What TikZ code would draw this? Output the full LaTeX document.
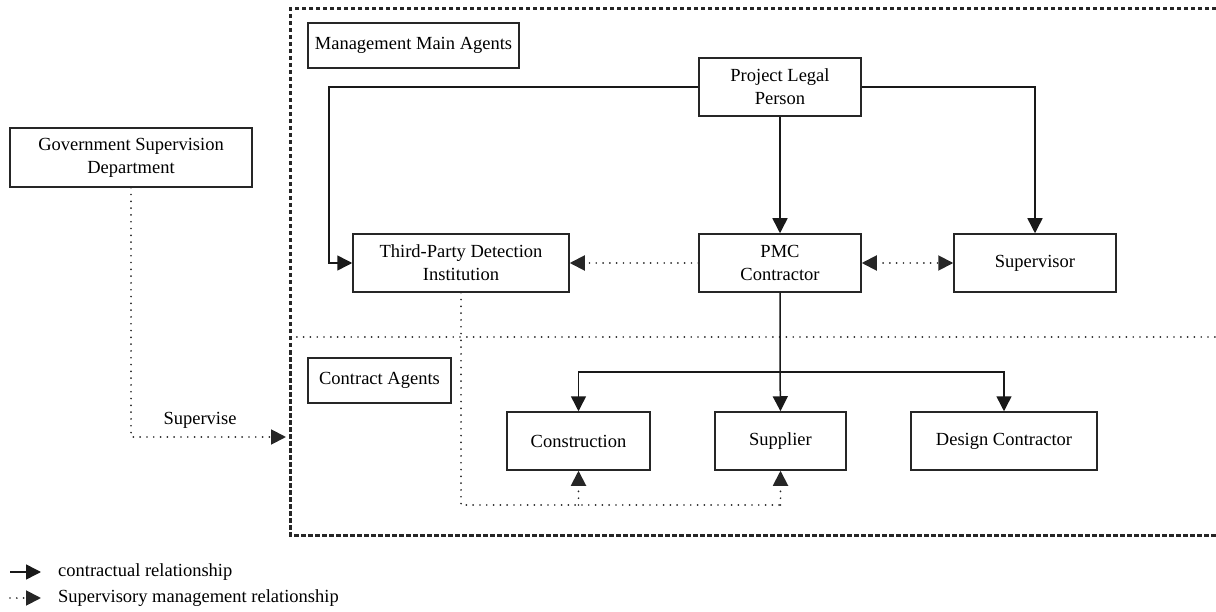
\documentclass[tikz,border=0pt]{standalone}
\usepackage{fontspec}
\setmainfont{Liberation Serif}
\usetikzlibrary{arrows.meta}

\tikzset{
  tip/.tip={Triangle[length=15pt,width=15pt]},
  box/.style={draw=black!85, line width=1.5pt, fill=white, align=center,
    inner sep=0pt, font=\fontsize{18.5}{23}\selectfont},
  label/.style={inner sep=0pt, font=\fontsize{18.5}{23}\selectfont},
  solidrel/.style={draw=black!90, line width=1.5pt, -tip},
  dotline/.style={draw=black!85, line width=1.9pt, line cap=round,
    dash pattern=on 0pt off 6.8pt},
  dotrel/.style={dotline, -tip},
  frame/.style={draw=black!85, line width=3pt, dash pattern=on 4.5pt off 2.5pt},
}

\begin{document}
\begin{tikzpicture}[x=1pt, y=-1pt]
\useasboundingbox (0,0) rectangle (1216,612);

% outer region of the project agents, and the divider between its two parts
\draw[frame] (1216,9) -- (290,9) -- (290,535) -- (1216,535);
\draw[dotline] (290,337) -- (1216,337);

% section labels
\node[box, minimum width=211pt, minimum height=45pt] (mma) at (413.5,45.5) {Management Main Agents};
\node[box, minimum width=143pt, minimum height=45pt] (ca) at (379.5,380.5) {Contract Agents};

% agents
\node[box, minimum width=242pt, minimum height=59pt] (gov) at (131,157.5) {Government Supervision\\Department};
\node[box, minimum width=162pt, minimum height=58pt] (plp) at (780,87) {Project Legal\\Person};
\node[box, minimum width=216pt, minimum height=58pt] (tpd) at (461,263) {Third-Party Detection\\Institution};
\node[box, minimum width=162pt, minimum height=58pt] (pmc) at (780,263) {PMC\\Contractor};
\node[box, minimum width=162pt, minimum height=58pt] (sup) at (1035,263) {Supervisor};
\node[box, minimum width=143pt, minimum height=58pt] (con) at (578.5,441) {Construction};
\node[box, minimum width=131pt, minimum height=58pt] (spl) at (780.5,441) {Supplier};
\node[box, minimum width=186pt, minimum height=58pt] (dsg) at (1004,441) {Design Contractor};

% routing points
\coordinate (lcorner) at (329,87);
\coordinate (rcorner) at (1035,87);
\coordinate (split) at (780,372);
\coordinate (govturn) at (131,437);
\coordinate (govtip) at (286,437);
\coordinate (tpdturn) at (461,505);

% contractual relationships
\draw[solidrel] (plp.south) -- (pmc.north);
\draw[solidrel] (plp.west) -- (lcorner) |- (tpd.west);
\draw[solidrel] (plp.east) -- (rcorner) -- (sup.north);
\draw[solidrel] (pmc.south) -- (split) -- (spl.north);
\draw[solidrel] (split) -| (con.north);
\draw[solidrel] (split) -| (dsg.north);

% supervisory management relationships
\draw[dotrel] (pmc.west) -- (tpd.east);
\draw[dotline, tip-tip] (pmc.east) -- (sup.west);
\draw[dotline] (tpd.south) -- (tpdturn) -- (tpdturn -| spl.south);
\draw[dotrel] (tpdturn -| con.south) -- (con.south);
\draw[dotrel] (tpdturn -| spl.south) -- (spl.south);
\draw[dotrel] (gov.south) -- (govturn) -- (govtip);
\node[label] (supv) at (200,420) {Supervise};

% legend
\coordinate (l1a) at (10,572);
\coordinate (l1b) at (41,572);
\coordinate (l2a) at (10,598);
\coordinate (l2b) at (41,598);
\draw[solidrel] (l1a) -- (l1b);
\draw[dotrel] (l2a) -- (l2b);
\node[label, anchor=west] (lg1) at (58,572) {contractual relationship};
\node[label, anchor=west] (lg2) at (58,598) {Supervisory management relationship};
\end{tikzpicture}
\end{document}
